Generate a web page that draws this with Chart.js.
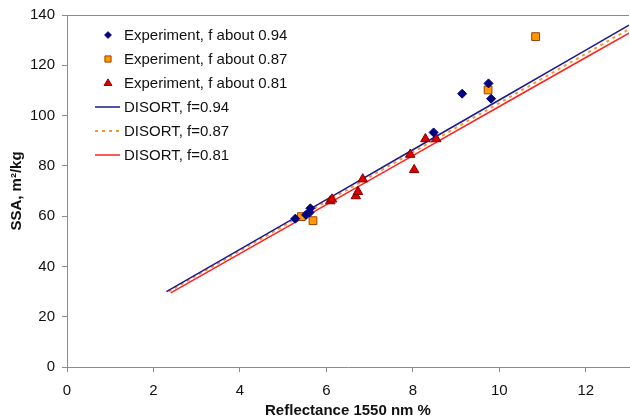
<!DOCTYPE html>
<html>
<head>
<meta charset="utf-8">
<script src="https://cdn.jsdelivr.net/npm/chart.js@4/dist/chart.umd.min.js"></script>
<style>
  html, body { margin: 0; padding: 0; background: #fff; }
  #wrap { width: 630px; height: 420px; }
</style>
</head>
<body>
<div id="wrap"><canvas id="ssa-chart"></canvas></div>
<script>
// Experiment points
const expX94 = [5.28, 5.53, 5.61, 5.63, 8.48, 9.14, 9.75, 9.81];
const expY94 = [59.0, 60.5, 61.4, 63.1, 93.3, 108.7, 112.8, 106.7];
const expX87 = [5.42, 5.69, 9.74, 10.84];
const expY87 = [59.8, 58.2, 110.2, 131.4];
const expX81 = [6.09, 6.13, 6.68, 6.73, 6.84, 7.94, 8.03, 8.29, 8.54];
const expY81 = [66.0, 66.7, 68.0, 69.7, 74.7, 84.5, 78.4, 90.7, 90.7];

// DISORT model curves
const disX94 = [2.3, 4, 6, 8, 10, 12, 13];
const disY94 = [30.0, 46.8, 66.6, 86.4, 106.2, 126.0, 136.0];
const disX87 = [2.35, 4, 6, 8, 10, 12, 13];
const disY87 = [30.0, 46.2, 65.8, 85.4, 105.0, 124.6, 134.4];
const disX81 = [2.4, 4, 6, 8, 10, 12, 13];
const disY81 = [29.5, 45.1, 64.6, 84.1, 103.6, 123.1, 132.8];

const xTicks = [0, 2, 4, 6, 8, 10, 12];
const yTicks = [0, 20, 40, 60, 80, 100, 120, 140];

const toPoints = (xs, ys) => xs.map((x, i) => ({ x: x, y: ys[i] }));

const FONT = '"Liberation Sans", Arial, sans-serif';
const AXIS_GREY = '#8c8c8c';

function drawShape(ctx, style, x, y, r) {
    if (style === 'rectRot') {
        ctx.moveTo(x, y - r);
        ctx.lineTo(x + r, y);
        ctx.lineTo(x, y + r);
        ctx.lineTo(x - r, y);
        ctx.closePath();
    } else if (style === 'rect') {
        const s = r * 0.75;
        ctx.rect(x - s, y - s, 2 * s, 2 * s);
    } else {
        ctx.moveTo(x, y - r);
        ctx.lineTo(x + r * 0.95, y + r * 0.6);
        ctx.lineTo(x - r * 0.95, y + r * 0.6);
        ctx.closePath();
    }
}

// legend drawn inside the plot area, top-left
const insideLegend = {
    id: 'insideLegend',
    beforeDatasetsDraw(chart) {
        // thin frame line along the top of the plot
        const a = chart.chartArea;
        const ctx = chart.ctx;
        ctx.save();
        ctx.strokeStyle = AXIS_GREY;
        ctx.lineWidth = 1;
        ctx.beginPath();
        ctx.moveTo(a.left, a.top + 0.5);
        ctx.lineTo(a.right, a.top + 0.5);
        ctx.stroke();
        ctx.restore();
    },
    afterDraw(chart) {
        const ctx = chart.ctx;
        const x0 = 95, x1 = 120, mx = 108, tx = 124;
        let y = 35;
        ctx.save();
        ctx.font = '15px ' + FONT;
        ctx.textBaseline = 'middle';
        chart.data.datasets.forEach(ds => {
            if (ds.showLine) {
                ctx.beginPath();
                ctx.strokeStyle = ds.borderColor;
                ctx.lineWidth = ds.borderWidth;
                ctx.setLineDash(ds.borderDash || []);
                ctx.moveTo(x0, y);
                ctx.lineTo(x1, y);
                ctx.stroke();
                ctx.setLineDash([]);
            } else {
                ctx.fillStyle = ds.backgroundColor;
                ctx.strokeStyle = ds.borderColor;
                ctx.lineWidth = 1;
                ctx.beginPath();
                drawShape(ctx, ds.pointStyle, mx, y, ds.pointRadius * 0.75);
                ctx.fill();
                ctx.stroke();
            }
            ctx.fillStyle = '#111';
            ctx.fillText(ds.label, tx, y + 1);
            y += 24;
        });
        ctx.restore();
    }
};

const ctx = document.getElementById('ssa-chart');

new Chart(ctx, {
    type: 'scatter',
    data: {
        datasets: [{
            label: 'Experiment, f about 0.94',
            data: toPoints(expX94, expY94),
            pointStyle: 'rectRot',
            pointRadius: 4.5,
            backgroundColor: '#000080',
            borderColor: '#000080',
            borderWidth: 1,
            showLine: false
        }, {
            label: 'Experiment, f about 0.87',
            data: toPoints(expX87, expY87),
            pointStyle: 'rect',
            pointRadius: 5.5,
            backgroundColor: '#ff9900',
            borderColor: '#a04000',
            borderWidth: 1,
            showLine: false
        }, {
            label: 'Experiment, f about 0.81',
            data: toPoints(expX81, expY81),
            pointStyle: 'triangle',
            pointRadius: 5.5,
            backgroundColor: '#dd0000',
            borderColor: '#800000',
            borderWidth: 1,
            showLine: false
        }, {
            label: 'DISORT, f=0.94',
            data: toPoints(disX94, disY94),
            showLine: true,
            pointRadius: 0,
            borderColor: '#1a1a8c',
            borderWidth: 1.5,
            fill: false
        }, {
            label: 'DISORT, f=0.87',
            data: toPoints(disX87, disY87),
            showLine: true,
            pointRadius: 0,
            borderColor: '#f7962a',
            borderWidth: 2,
            borderDash: [3, 4],
            fill: false
        }, {
            label: 'DISORT, f=0.81',
            data: toPoints(disX81, disY81),
            showLine: true,
            pointRadius: 0,
            borderColor: '#ff2020',
            borderWidth: 1.5,
            fill: false
        }]
    },
    options: {
        responsive: true,
        maintainAspectRatio: false,
        animation: false,
        layout: {
            autoPadding: false,
            padding: { top: 15, right: 1, left: 0, bottom: 0 }
        },
        plugins: {
            legend: { display: false },
            tooltip: { enabled: false }
        },
        scales: {
            x: {
                type: 'linear',
                min: 0,
                max: 13,
                afterFit: (scale) => {
                    scale.height = 53;
                    scale.paddingLeft = 0;
                    scale.paddingRight = 0;
                },
                afterBuildTicks: (scale) => {
                    scale.ticks = xTicks.map(v => ({ value: v }));
                },
                grid: {
                    drawOnChartArea: false,
                    drawTicks: true,
                    tickLength: 5,
                    color: AXIS_GREY
                },
                border: { color: AXIS_GREY, width: 1 },
                ticks: {
                    color: '#111',
                    padding: 10,
                    font: { family: FONT, size: 15 }
                },
                title: {
                    display: true,
                    text: 'Reflectance 1550 nm %',
                    color: '#111',
                    padding: { top: 0, bottom: 0 },
                    font: { family: FONT, size: 15, weight: 'bold' }
                }
            },
            y: {
                type: 'linear',
                min: 0,
                max: 140,
                afterFit: (scale) => {
                    scale.width = 67;
                    scale.paddingTop = 0;
                    scale.paddingBottom = 0;
                },
                afterBuildTicks: (scale) => {
                    scale.ticks = yTicks.map(v => ({ value: v }));
                },
                grid: {
                    drawOnChartArea: false,
                    drawTicks: true,
                    tickLength: 5,
                    color: AXIS_GREY
                },
                border: { color: AXIS_GREY, width: 1 },
                ticks: {
                    color: '#111',
                    padding: 7,
                    font: { family: FONT, size: 15 }
                },
                title: {
                    display: true,
                    text: 'SSA, m²/kg',
                    color: '#111',
                    padding: { top: 8, bottom: 0 },
                    font: { family: FONT, size: 15, weight: 'bold' }
                }
            }
        }
    },
    plugins: [insideLegend]
});
</script>
</body>
</html>
